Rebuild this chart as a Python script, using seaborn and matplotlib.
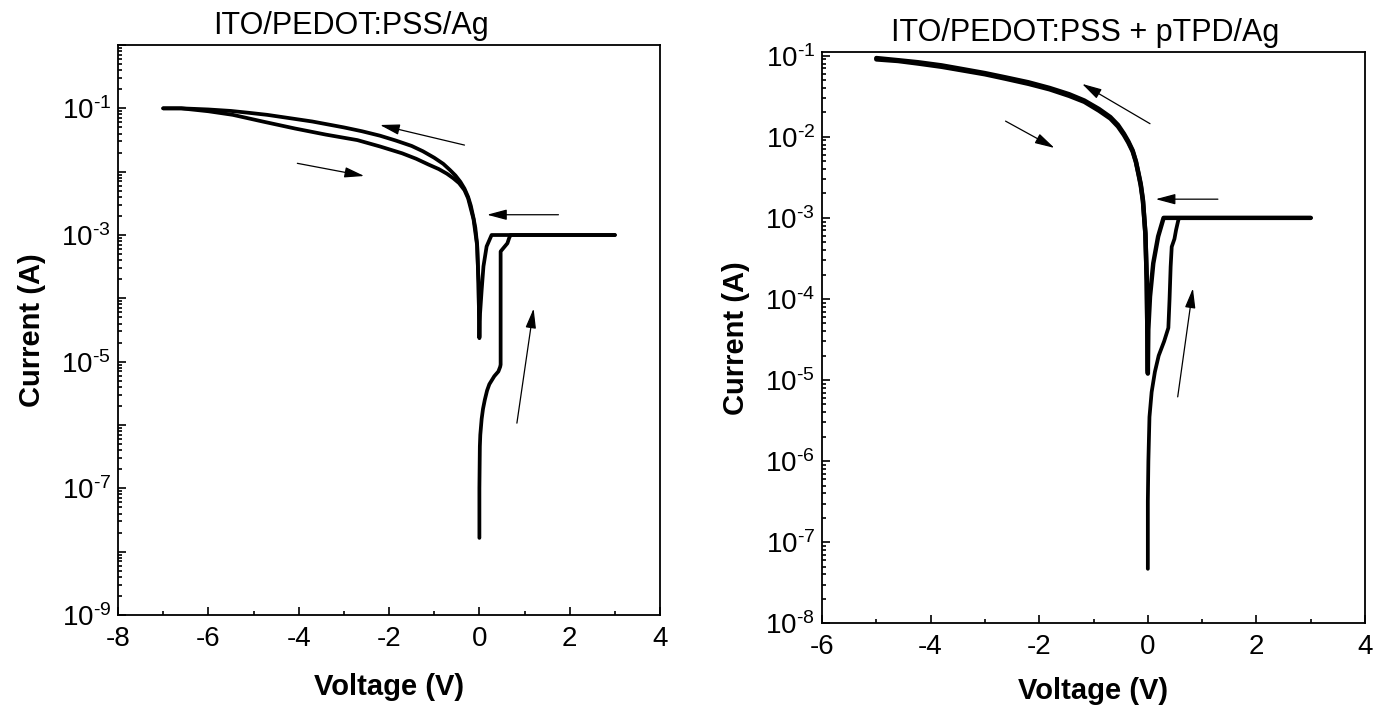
import numpy as np
import pandas as pd
import matplotlib
matplotlib.use("Agg")
import matplotlib.pyplot as plt
import matplotlib.ticker as mticker
import seaborn as sns

# ---------------- data: ITO/PEDOT:PSS/Ag ----------------
left_title = "ITO/PEDOT:PSS/Ag"
# 0 V -> +3 V sweep
l_fwd_v = [0.0, 0.0, 0.01, 0.02, 0.05, 0.08, 0.12, 0.17, 0.22, 0.33, 0.42, 0.46, 0.47,
           0.47, 0.53, 0.62, 0.66, 0.69, 3.0]
l_fwd_i = [1.65e-8, 1.0e-7, 4.6e-7, 7.0e-7, 1.25e-6, 1.8e-6, 2.5e-6, 3.5e-6, 4.4e-6,
           5.9e-6, 7.0e-6, 8.3e-6, 9.0e-6, 5.5e-4, 6.2e-4, 7.4e-4, 9.0e-4, 1.0e-3, 1.0e-3]
# +3 V -> 0 V -> -7 V sweep
l_rev_v = [3.0, 0.27, 0.16, 0.09, 0.05, 0.015, 0.0, -0.02, -0.05, -0.09, -0.13, -0.19,
           -0.25, -0.33, -0.42, -0.53, -0.65, -0.8, -1.0, -1.25, -1.5, -1.85, -2.2,
           -2.6, -3.0, -3.7, -4.2, -4.7, -5.1, -5.5, -6.0, -6.6, -7.0]
l_rev_i = [1.0e-3, 1.0e-3, 6.6e-4, 3.2e-4, 1.35e-4, 5.8e-5, 2.35e-5, 1.8e-4, 7.1e-4,
           1.3e-3, 1.85e-3, 2.9e-3, 4.0e-3, 5.4e-3, 6.9e-3, 8.7e-3, 1.06e-2, 1.33e-2,
           1.66e-2, 2.1e-2, 2.55e-2, 3.1e-2, 3.7e-2, 4.35e-2, 5.0e-2, 6.2e-2, 7.0e-2,
           7.9e-2, 8.5e-2, 9.1e-2, 9.6e-2, 1.0e-1, 1.0e-1]
# -7 V -> 0 V sweep
l_ret_v = [-7.0, -6.6, -6.0, -5.46, -4.8, -4.08, -3.4, -2.7, -2.2, -1.71, -1.4, -1.12,
           -0.9, -0.72, -0.58, -0.45, -0.33, -0.25, -0.13, -0.05, -0.02, 0.0]
l_ret_i = [1.0e-1, 1.0e-1, 9.0e-2, 7.9e-2, 6.2e-2, 4.8e-2, 3.85e-2, 3.15e-2, 2.5e-2,
           1.95e-2, 1.6e-2, 1.29e-2, 1.1e-2, 9.3e-3, 7.9e-3, 6.6e-3, 5.1e-3, 3.8e-3,
           1.78e-3, 6.8e-4, 1.7e-4, 2.5e-5]

# ---------------- data: ITO/PEDOT:PSS + pTPD/Ag ----------------
right_title = "ITO/PEDOT:PSS + pTPD/Ag"
r_fwd_v = [0.0, 0.0, 0.01, 0.03, 0.07, 0.13, 0.2, 0.3, 0.378, 0.40, 0.42, 0.44,
           0.49, 0.52, 0.56, 0.58, 3.0]
r_fwd_i = [4.7e-8, 3.2e-7, 1.0e-6, 3.5e-6, 7.1e-6, 1.26e-5, 2.0e-5, 3.0e-5, 4.4e-5,
           1.0e-4, 2.5e-4, 4.4e-4, 5.5e-4, 7.1e-4, 9.3e-4, 1.0e-3, 1.0e-3]
r_rev_v = [3.0, 0.29, 0.19, 0.10, 0.04, 0.009, 0.0, -0.02, -0.045, -0.09, -0.13,
           -0.17, -0.22, -0.28, -0.36, -0.44, -0.55, -0.69, -0.9, -1.17, -1.45, -1.81,
           -2.2, -2.62, -3.0, -3.42, -3.8, -4.23, -4.6, -5.0]
r_rev_i = [1.0e-3, 1.0e-3, 5.9e-4, 2.75e-4, 1.07e-4, 4.2e-5, 1.2e-5, 1.7e-4, 6.5e-4,
           1.66e-3, 2.6e-3, 3.5e-3, 5.0e-3, 6.8e-3, 8.8e-3, 1.09e-2, 1.4e-2, 1.75e-2,
           2.2e-2, 2.8e-2, 3.35e-2, 4.0e-2, 4.7e-2, 5.4e-2, 6.1e-2, 6.85e-2, 7.6e-2,
           8.3e-2, 8.8e-2, 9.35e-2]
r_ret_v = [-5.0, -4.6, -4.23, -3.8, -3.42, -3.0, -2.62, -2.2, -1.81, -1.45, -1.17,
           -0.9, -0.69, -0.55, -0.44, -0.36, -0.28, -0.22, -0.17, -0.13, -0.09, -0.045,
           -0.02, 0.0]
r_ret_i = [9.0e-2, 8.6e-2, 8.0e-2, 7.3e-2, 6.6e-2, 5.9e-2, 5.2e-2, 4.5e-2, 3.85e-2,
           3.2e-2, 2.7e-2, 2.1e-2, 1.68e-2, 1.34e-2, 1.05e-2, 8.5e-3, 6.6e-3, 4.9e-3,
           3.4e-3, 2.5e-3, 1.6e-3, 6.3e-4, 1.65e-4, 1.3e-5]

# sweep-direction arrows: (tail V, tail I, head V, head I)
left_arrows = [(-0.33, 2.63e-2, -2.2, 5.46e-2),
               (-4.03, 1.355e-2, -2.55, 8.55e-3),
               (1.75, 2.09e-3, 0.17, 2.09e-3),
               (0.83, 1.07e-6, 1.2, 6.9e-5)]
right_arrows = [(0.04, 1.45e-2, -1.21, 4.49e-2),
                (-2.62, 1.56e-2, -1.72, 7.28e-3),
                (1.29, 1.7e-3, 0.145, 1.7e-3),
                (0.55, 6.2e-6, 0.83, 1.35e-4)]

sns.set_theme(style="ticks")
FONT = ["Liberation Sans", "DejaVu Sans"]
plt.rcParams["font.family"] = FONT
plt.rcParams["mathtext.fontset"] = "custom"
plt.rcParams["mathtext.rm"] = "Liberation Sans"
plt.rcParams["mathtext.default"] = "regular"
plt.rcParams["axes.linewidth"] = 1.3
plt.rcParams["axes.unicode_minus"] = False
plt.rcParams["text.color"] = "black"
plt.rcParams["axes.labelcolor"] = "black"
plt.rcParams["axes.titlecolor"] = "black"

fig = plt.figure(figsize=(13.85, 7.1), dpi=100)
ax_l = fig.add_axes([0.0852, 0.1338, 0.3914, 0.8028])
ax_r = fig.add_axes([0.5935, 0.1221, 0.3921, 0.8042])


def draw_curves(ax, segments, lws):
    for (v, i), lw in zip(segments, lws):
        df = pd.DataFrame({"Voltage": v, "Current": i})
        sns.lineplot(data=df, x="Voltage", y="Current", ax=ax, sort=False,
                     estimator=None, color="black", lw=lw,
                     solid_capstyle="round", solid_joinstyle="round")


def draw_arrows(ax, arrows):
    for tv, ti, hv, hi in arrows:
        ax.annotate("", xy=(hv, hi), xytext=(tv, ti),
                    arrowprops=dict(arrowstyle="-|>,head_length=0.6,head_width=0.16",
                                    color="black", lw=0.9, mutation_scale=20,
                                    shrinkA=0, shrinkB=0))


def style_axes(ax, xlim, ylim, decades, labelled, xpad):
    ax.set_yscale("log")
    ax.set_xlim(*xlim)
    ax.set_ylim(*ylim)
    ax.xaxis.set_major_locator(mticker.MultipleLocator(2))
    ax.xaxis.set_minor_locator(mticker.MultipleLocator(1))
    ax.xaxis.set_major_formatter(mticker.FuncFormatter(lambda x, p: f"{x:.0f}"))
    ax.yaxis.set_major_locator(mticker.FixedLocator([10.0 ** e for e in decades]))
    ax.yaxis.set_minor_locator(mticker.LogLocator(base=10, subs=np.arange(2, 10), numticks=30))
    ax.yaxis.set_minor_formatter(mticker.NullFormatter())

    def fmt(y, pos):
        e = int(round(np.log10(y)))
        if e not in labelled:
            return ""
        return r"$10^{\text{-}%d}$" % abs(e) if e < 0 else r"$10^{%d}$" % e

    ax.yaxis.set_major_formatter(mticker.FuncFormatter(fmt))
    ax.tick_params(which="both", direction="in", top=False, right=False,
                   width=1.2, colors="black", labelsize=20)
    ax.tick_params(which="major", length=6)
    ax.tick_params(which="minor", length=3)
    ax.tick_params(axis="x", pad=8)
    ax.tick_params(axis="y", pad=5)
    for s in ax.spines.values():
        s.set_visible(True)
        s.set_color("black")
        s.set_linewidth(1.3)
    ax.set_xlabel("Voltage (V)", fontsize=21, fontweight="bold", labelpad=xpad,
                  color="black")
    ax.set_ylabel("Current (A)", fontsize=21, fontweight="bold", labelpad=11,
                  color="black")
    ax.grid(False)


draw_curves(ax_l, [(l_fwd_v, l_fwd_i), (l_rev_v, l_rev_i), (l_ret_v, l_ret_i)],
            [2.7, 2.7, 2.7])
draw_arrows(ax_l, left_arrows)
style_axes(ax_l, (-8, 4), (1e-9, 1.0), range(-9, 1), [-1, -3, -5, -7, -9], 15)
ax_l.set_title(left_title, fontsize=22, x=0.43, pad=8, color="black")

draw_curves(ax_r, [(r_fwd_v, r_fwd_i), (r_rev_v, r_rev_i), (r_ret_v, r_ret_i)],
            [2.7, 3.2, 3.2])
draw_arrows(ax_r, right_arrows)
style_axes(ax_r, (-6, 4), (1e-8, 0.11), range(-8, 0), list(range(-8, 0)), 12)
ax_r.set_title(right_title, fontsize=22, x=0.485, pad=8, color="black")

fig.savefig("out.png", dpi=100, facecolor="white")
